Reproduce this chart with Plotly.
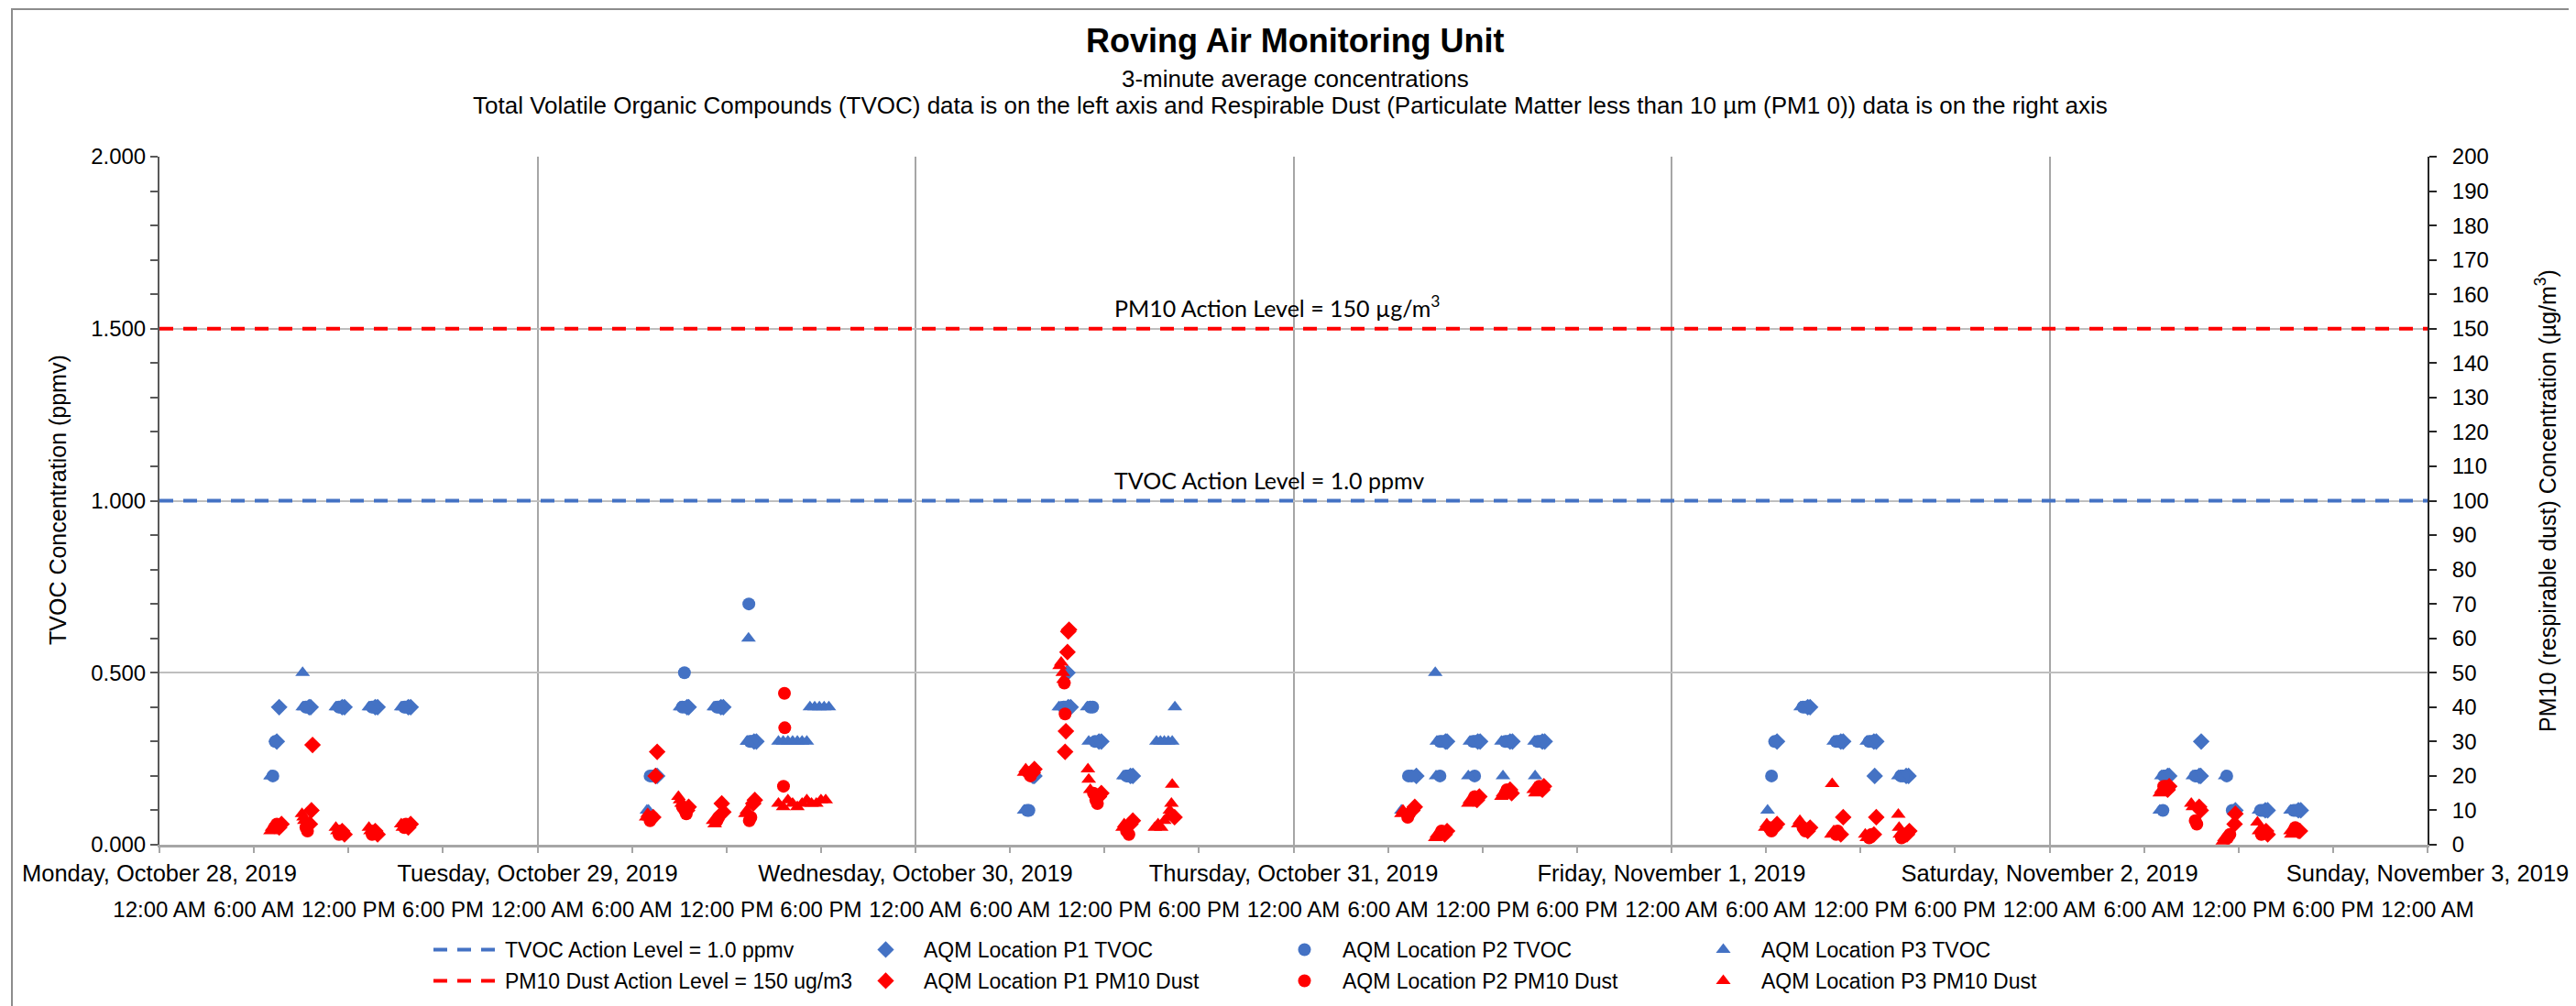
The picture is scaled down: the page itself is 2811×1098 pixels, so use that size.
import pandas as pd
import plotly.graph_objects as go

# ---------------- data ----------------
START = "2019-10-28 00:00"
END = "2019-11-03 00:00"

day_ticks = ["2019-10-28", "2019-10-29", "2019-10-30", "2019-10-31",
             "2019-11-01", "2019-11-02", "2019-11-03"]
day_labels = ["Monday, October 28, 2019", "Tuesday, October 29, 2019",
              "Wednesday, October 30, 2019", "Thursday, October 31, 2019",
              "Friday, November 1, 2019", "Saturday, November 2, 2019",
              "Sunday, November 3, 2019"]
time_labels = ["12:00 AM", "6:00 AM", "12:00 PM", "6:00 PM",
               "12:00 AM", "6:00 AM", "12:00 PM", "6:00 PM",
               "12:00 AM", "6:00 AM", "12:00 PM", "6:00 PM",
               "12:00 AM", "6:00 AM", "12:00 PM", "6:00 PM",
               "12:00 AM", "6:00 AM", "12:00 PM", "6:00 PM",
               "12:00 AM", "6:00 AM", "12:00 PM", "6:00 PM",
               "12:00 AM"]

tvoc_action_level = 1.0     # ppmv
pm10_action_level = 150     # ug/m3

# sample times are hours after Monday 28 Oct 2019 00:00
p1_tvoc_hours = [7.45, 7.6, 9.5, 9.6, 11.6, 11.75, 13.7, 13.85, 15.8, 15.95,
                 31.5, 31.6, 33.5, 33.6, 35.65, 35.8, 37.75, 37.9,
                 55.45, 55.55, 57.65, 57.7, 57.85, 59.65, 59.8, 61.65, 61.8,
                 79.8, 81.65, 81.75, 83.7, 83.85, 85.75, 85.9, 87.8, 87.95,
                 102.7, 104.65, 104.8, 106.75, 106.9, 108.85, 108.9, 109.0, 110.9, 111.05,
                 127.5, 127.6, 129.5, 129.63, 129.6, 131.8, 133.7, 133.85, 135.8, 135.95]
p1_tvoc_ppmv = [0.3, 0.4, 0.4, 0.4, 0.4, 0.4, 0.4, 0.4, 0.4, 0.4,
                0.2, 0.2, 0.4, 0.4, 0.4, 0.4, 0.3, 0.3,
                0.2, 0.2, 0.5, 0.4, 0.4, 0.3, 0.3, 0.2, 0.2,
                0.2, 0.3, 0.3, 0.3, 0.3, 0.3, 0.3, 0.3, 0.3,
                0.3, 0.4, 0.4, 0.3, 0.3, 0.3, 0.2, 0.3, 0.2, 0.2,
                0.2, 0.2, 0.2, 0.3, 0.2, 0.1, 0.1, 0.1, 0.1, 0.1]

p2_tvoc_hours = [7.2, 7.35, 9.3, 9.4, 11.4, 11.5, 13.5, 13.6, 15.55, 15.65,
                 31.15, 31.3, 33.33, 33.2, 33.4, 35.4, 35.5, 37.42, 37.5, 37.6,
                 55.1, 55.2, 57.4, 57.5, 59.1, 59.25, 59.4, 61.4, 61.5,
                 79.3, 79.5, 81.3, 81.3, 81.45, 83.4, 83.5, 83.55, 85.45, 85.6, 87.5, 87.65,
                 102.35, 102.55, 104.35, 104.5, 106.45, 106.6, 108.55, 108.7, 110.55, 110.7,
                 127.2, 127.25, 127.35, 129.25, 129.35, 131.25, 131.6, 133.4, 133.55, 135.5, 135.65]
p2_tvoc_ppmv = [0.2, 0.3, 0.4, 0.4, 0.4, 0.4, 0.4, 0.4, 0.4, 0.4,
                0.2, 0.2, 0.5, 0.4, 0.4, 0.4, 0.4, 0.7, 0.3, 0.3,
                0.1, 0.1, 0.4, 0.4, 0.4, 0.4, 0.3, 0.2, 0.2,
                0.2, 0.2, 0.2, 0.3, 0.3, 0.3, 0.2, 0.3, 0.3, 0.3, 0.3, 0.3,
                0.2, 0.3, 0.4, 0.4, 0.3, 0.3, 0.3, 0.3, 0.2, 0.2,
                0.1, 0.2, 0.2, 0.2, 0.2, 0.2, 0.1, 0.1, 0.1, 0.1, 0.1]

p3_tvoc_hours = [7.05, 7.1, 9.09, 9.1, 9.2, 11.2, 11.3, 13.3, 13.4, 15.35, 15.45,
                 30.95, 31.05, 33.05, 33.15, 35.2, 35.3, 37.4, 37.3, 37.35,
                 39.3, 39.6, 39.9, 40.2, 40.5, 40.8, 41.1, 41.3, 41.6, 41.9, 42.2, 42.5,
                 54.9, 55.0, 57.1, 57.2, 58.9, 59.0, 61.2, 61.3,
                 63.3, 63.55, 63.8, 64.05, 64.3, 64.47,
                 78.85, 81.0, 81.05, 81.1, 83.1, 83.2, 85.2, 85.3, 87.3, 87.34,
                 102.1, 104.2, 106.3, 108.4, 110.4,
                 127.0, 127.1, 129.1, 131.15, 133.3, 135.3]
p3_tvoc_ppmv = [0.2, 0.2, 0.5, 0.4, 0.4, 0.4, 0.4, 0.4, 0.4, 0.4, 0.4,
                0.1, 0.1, 0.4, 0.4, 0.4, 0.4, 0.6, 0.3, 0.3,
                0.3, 0.3, 0.3, 0.3, 0.3, 0.3, 0.3, 0.4, 0.4, 0.4, 0.4, 0.4,
                0.1, 0.1, 0.4, 0.4, 0.4, 0.3, 0.2, 0.2,
                0.3, 0.3, 0.3, 0.3, 0.3, 0.4,
                0.1, 0.5, 0.2, 0.3, 0.2, 0.3, 0.3, 0.2, 0.3, 0.2,
                0.1, 0.4, 0.3, 0.3, 0.2,
                0.1, 0.2, 0.2, 0.2, 0.1, 0.1]

p1_pm10_hours = [7.6, 7.75, 9.55, 9.65, 9.72, 11.6, 11.75, 13.7, 13.85, 15.8, 15.95,
                 31.35, 31.5, 31.6, 33.5, 33.6, 35.7, 35.8, 37.7, 37.8,
                 55.45, 55.55, 57.5, 57.55, 57.65, 57.75, 57.7, 59.65, 59.8, 61.65, 61.8, 64.45,
                 79.55, 79.7, 81.6, 81.75, 83.65, 83.8, 85.75, 85.85, 87.8, 87.9,
                 102.55, 102.7, 104.65, 104.8, 106.75, 106.9, 108.85, 109.0, 110.95, 111.1,
                 127.5, 127.6, 129.5, 129.6, 131.75, 131.8, 133.75, 133.85, 135.8, 135.9]
p1_pm10_ugm3 = [5, 6, 6, 10, 29, 4, 3, 4, 3, 5, 6,
                8, 20, 27, 10, 11, 12, 9.5, 12, 13,
                21, 22, 27, 33, 56, 62.5, 62, 14, 15, 6, 7, 8,
                10, 11, 3, 4, 13, 14, 16, 15, 16, 17,
                5, 6, 4, 5, 3, 8, 3, 8, 3, 4,
                16, 17, 11, 10, 6, 9, 4, 3, 4, 4]

p2_pm10_hours = [7.3, 7.45, 9.3, 9.4, 11.4, 11.5, 13.5, 13.6, 15.55, 15.65,
                 31.15, 31.3, 33.2, 33.35, 33.45, 35.4, 35.5, 37.45, 37.55, 39.62, 39.7, 39.68,
                 55.15, 55.3, 57.45, 57.5, 59.3, 59.45, 59.55, 61.4, 61.55,
                 79.25, 79.35, 81.3, 81.4, 83.4, 83.5, 85.45, 85.55, 87.5, 87.6,
                 102.2, 102.35, 104.35, 104.5, 106.45, 106.55, 108.55, 108.7, 110.6, 110.75,
                 127.25, 127.4, 129.25, 129.35, 131.3, 131.45, 133.45, 133.55, 135.5, 135.6]
p2_pm10_ugm3 = [5, 6, 5, 4, 3, 4, 3, 4, 5, 6,
                7, 8, 11, 10, 9, 7, 8, 7, 8, 17, 34, 44,
                21, 20, 47, 38, 15, 13, 12, 4, 3,
                8, 9, 3, 4, 13, 14, 15, 16, 16, 17,
                5, 4, 5, 4, 3, 4, 2, 3, 2, 3,
                17, 17, 7, 6, 2, 3, 3, 4, 4, 5]

p3_pm10_hours = [7.05, 7.15, 9.05, 9.15, 9.2, 11.2, 11.3, 13.3, 13.4, 15.35, 15.45,
                 30.9, 31.0, 31.1, 32.95, 33.05, 33.15, 35.15, 35.25, 37.2, 37.3,
                 39.3, 39.6, 39.9, 40.2, 40.5, 40.8, 41.1, 41.4, 41.7, 42.0, 42.3,
                 54.9, 55.0, 57.15, 57.25, 57.35, 57.4, 58.95, 59.0, 59.1, 61.15, 61.25,
                 63.2, 63.4, 63.6, 63.8, 64.0, 64.15, 64.25, 64.3,
                 78.85, 78.95, 81.0, 81.1, 83.1, 83.2, 85.2, 85.3, 87.25, 87.35,
                 101.95, 102.05, 104.05, 104.15, 106.2, 106.15, 106.3, 108.3, 108.4, 110.4, 110.45, 110.5,
                 127.0, 127.1, 129.0, 129.1, 131.0, 131.1, 133.2, 133.3, 135.3, 135.35]
p3_pm10_ugm3 = [4, 5, 9, 8, 7, 5, 4, 5, 4, 6, 5,
                8, 9, 8, 14, 13, 12, 7, 6, 9, 10,
                12, 11, 13, 12, 11, 12, 13, 12, 12, 13, 13,
                21, 22, 52, 53, 50, 48, 22, 19, 16, 5, 6,
                5, 6, 5, 7, 8, 10, 12, 17.5,
                9, 10, 2, 3, 12, 13, 14, 15, 16, 15,
                5, 6, 6, 7, 17.7, 3, 4, 3, 2, 8.8, 5, 3,
                15, 16, 12, 11, 1, 2, 6.5, 4, 4, 3]

# ---------------- styling / layout ----------------
PAGE_W, PAGE_H = 2811, 1098
OFF = 8                                 # default page margin of the html body
FW, FH = PAGE_W - OFF, PAGE_H - OFF     # figure size
PLOT_L, PLOT_R, PLOT_T, PLOT_B = 174, 2649, 171, 922   # plot area in page pixels
ML, MT = PLOT_L - OFF, PLOT_T - OFF
MR, MB = FW - (PLOT_R - OFF), FH - (PLOT_B - OFF)
PW, PH = PLOT_R - PLOT_L, PLOT_B - PLOT_T

BLUE = "#4472C4"
RED = "#FF0000"
FONT = "Liberation Sans, Arial, sans-serif"
MSIZE = 14


def px_x(px):   # page pixel -> paper fraction
    return (px - PLOT_L) / PW


def px_y(py):
    return (PLOT_B - py) / PH


def cx(px):     # page pixel -> container fraction
    return (px - OFF) / FW


def cy(py):
    return 1 - (py - OFF) / FH


base = pd.Timestamp(START)


def to_time(hours):
    return [base + pd.Timedelta(hours=h) for h in hours]


six_hour_ticks = [base + pd.Timedelta(hours=6 * i) for i in range(len(time_labels))]

fig = go.Figure()

fig.add_trace(go.Scatter(
    x=[START, END], y=[tvoc_action_level, tvoc_action_level], mode="lines",
    name="TVOC Action Level = 1.0 ppmv", xaxis="x2", yaxis="y",
    line=dict(color=BLUE, width=4, dash="15px,11px"), legend="legend"))
for name, hrs, vals, sym in [
        ("AQM Location P1 TVOC", p1_tvoc_hours, p1_tvoc_ppmv, "diamond"),
        ("AQM Location P2 TVOC", p2_tvoc_hours, p2_tvoc_ppmv, "circle"),
        ("AQM Location P3 TVOC", p3_tvoc_hours, p3_tvoc_ppmv, "triangle-up")]:
    fig.add_trace(go.Scatter(
        x=to_time(hrs), y=vals, mode="markers", name=name, xaxis="x", yaxis="y",
        marker=dict(symbol=sym, size=MSIZE, color=BLUE, line=dict(width=0)),
        legend="legend"))

fig.add_trace(go.Scatter(
    x=[START, END], y=[pm10_action_level, pm10_action_level], mode="lines",
    name="PM10 Dust Action Level = 150 ug/m3", xaxis="x", yaxis="y2",
    line=dict(color=RED, width=4, dash="15px,11px"), legend="legend2"))
for name, hrs, vals, sym in [
        ("AQM Location P1 PM10 Dust", p1_pm10_hours, p1_pm10_ugm3, "diamond"),
        ("AQM Location P2 PM10 Dust", p2_pm10_hours, p2_pm10_ugm3, "circle"),
        ("AQM Location P3 PM10 Dust", p3_pm10_hours, p3_pm10_ugm3, "triangle-up")]:
    fig.add_trace(go.Scatter(
        x=to_time(hrs), y=vals, mode="markers", name=name, xaxis="x", yaxis="y2",
        marker=dict(symbol=sym, size=MSIZE, color=RED, line=dict(width=0)),
        legend="legend2"))

tick_font = dict(family=FONT, size=24, color="black")
legend_common = dict(
    orientation="h", xref="container", yref="container",
    xanchor="left", yanchor="top", itemwidth=73,
    entrywidth=369, entrywidthmode="pixels",
    font=dict(family=FONT, size=23, color="black"),
    bgcolor="rgba(0,0,0,0)", traceorder="normal",
)

fig.update_layout(
    width=FW, height=FH, autosize=False,
    margin=dict(l=ML, r=MR, t=MT, b=MB, autoexpand=False),
    paper_bgcolor="white", plot_bgcolor="white",
    font=dict(family=FONT, color="black"),
    xaxis=dict(
        type="date", range=[START, END], tickmode="array",
        tickvals=day_ticks, ticktext=day_labels, tickangle=0,
        ticks="outside", ticklen=5, tickwidth=2, tickcolor="#A6A6A6",
        showgrid=True, gridcolor="#A6A6A6", gridwidth=2,
        showline=True, linecolor="#A6A6A6", linewidth=3,
        zeroline=False, tickfont=dict(family=FONT, size=25.5, color="black"),
        ticklabelstandoff=1,
        minor=dict(tickmode="array", tickvals=six_hour_ticks, ticks="outside",
                   ticklen=6, tickwidth=2, tickcolor="#A6A6A6", showgrid=False),
    ),
    xaxis2=dict(
        type="date", range=[START, END], overlaying="x", side="bottom", anchor="y",
        tickmode="array", tickvals=six_hour_ticks, ticktext=time_labels, tickangle=0,
        ticks="", showgrid=False, showline=False, zeroline=False,
        tickfont=tick_font, ticklabelstandoff=54,
    ),
    yaxis=dict(
        range=[0, 2], tickmode="array", tickvals=[0, 0.5, 1.0, 1.5, 2.0],
        tickformat=".3f", ticks="outside", ticklen=8, tickwidth=2, tickcolor="#595959",
        minor=dict(dtick=0.1, ticks="outside", ticklen=8, tickwidth=2,
                   tickcolor="#595959", showgrid=False),
        showgrid=True, gridcolor="#BFBFBF", gridwidth=2,
        showline=True, linecolor="#595959", linewidth=2, zeroline=False,
        tickfont=tick_font,
    ),
    yaxis2=dict(
        range=[0, 200], overlaying="y", side="right", anchor="x",
        tickmode="linear", tick0=0, dtick=10, ticks="outside", ticklen=8,
        tickwidth=2, tickcolor="#262626",
        showgrid=False, showline=True, linecolor="#262626", linewidth=2,
        zeroline=False, tickfont=tick_font, ticklabelstandoff=12,
    ),
    legend=dict(legend_common, x=cx(468), y=cy(1015)),
    legend2=dict(legend_common, x=cx(468), y=cy(1049)),
    showlegend=True,
)

annotations = [
    dict(text="<b>Roving Air Monitoring Unit</b>", x=px_x(1413), y=px_y(44),
         font=dict(family=FONT, size=36, color="black")),
    dict(text="3-minute average concentrations", x=px_x(1413), y=px_y(86),
         font=dict(family=FONT, size=26, color="black")),
    dict(text="Total Volatile Organic Compounds (TVOC) data is on the left axis and "
              "Respirable Dust (Particulate Matter less than 10 µm (PM1 0)) data is on the right axis",
         x=px_x(1408), y=px_y(115), font=dict(family=FONT, size=26, color="black")),
    dict(text="TVOC Concentration (ppmv)", x=px_x(63), y=px_y(546), textangle=-90,
         font=dict(family=FONT, size=25, color="black")),
    dict(text="PM10 (respirable dust) Concentration (µg/m<sup>3</sup>)", x=px_x(2778),
         y=px_y(546), textangle=-90, font=dict(family=FONT, size=25, color="black")),
]
for a in annotations:
    a.update(xref="paper", yref="paper", showarrow=False, xanchor="center", yanchor="middle")

label_x = base + pd.Timedelta(hours=60.5)
annotations += [
    dict(text="PM10 Action Level = 150 µg/m<sup>3</sup>", x=label_x, y=pm10_action_level,
         xref="x", yref="y2", xanchor="left", yanchor="bottom", yshift=6, showarrow=False,
         font=dict(family="Lato, Carlito, sans-serif", size=25, color="black")),
    dict(text="TVOC Action Level = 1.0 ppmv", x=label_x, y=tvoc_action_level,
         xref="x", yref="y", xanchor="left", yanchor="bottom", yshift=6, showarrow=False,
         font=dict(family="Lato, Carlito, sans-serif", size=25, color="black")),
]
fig.update_layout(annotations=annotations)

# outer chart-area border (top and left edges visible)
fig.add_shape(type="rect", xref="paper", yref="paper",
              x0=px_x(13), y0=px_y(PAGE_H + 10), x1=px_x(PAGE_W + 10), y1=px_y(10),
              line=dict(color="#8C8C8C", width=2), fillcolor="rgba(0,0,0,0)", layer="below")

fig.write_html("out.html")
